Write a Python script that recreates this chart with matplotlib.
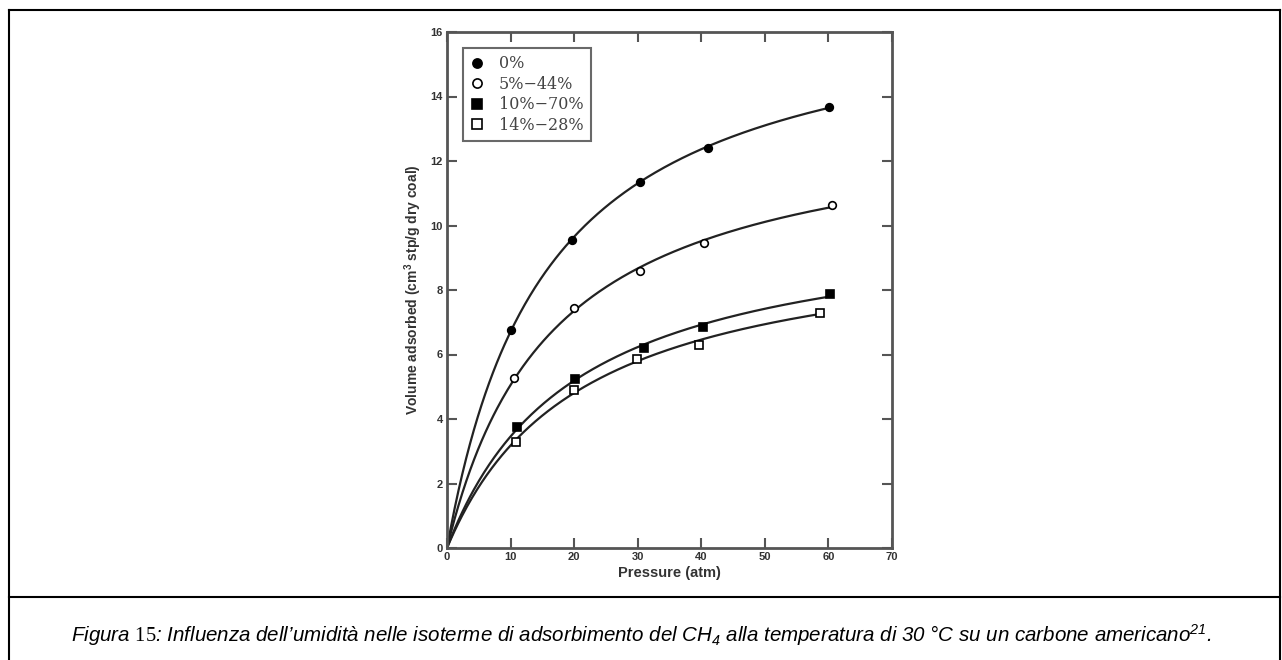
import numpy as np
import matplotlib
matplotlib.use('Agg')
import matplotlib.pyplot as plt
from matplotlib.lines import Line2D

# =============================================================================
# data
# =============================================================================
labels = ['0%', '5%\u221244%', '10%\u221270%', '14%\u221228%']
markers = ['o', 'o', 's', 's']
fills = ['black', 'white', 'black', 'white']

p_0 = [10.0, 19.6, 30.4, 41.0, 60.1]
v_0 = [6.75, 9.55, 11.35, 12.4, 13.68]
p_5 = [10.6, 20.0, 30.4, 40.5, 60.6]
v_5 = [5.28, 7.45, 8.6, 9.46, 10.64]
p_10 = [11.0, 20.1, 31.0, 40.2, 60.2]
v_10 = [3.75, 5.25, 6.2, 6.85, 7.87]
p_14 = [10.8, 19.9, 29.9, 39.7, 58.7]
v_14 = [3.3, 4.9, 5.85, 6.3, 7.3]

xticks = [0, 10, 20, 30, 40, 50, 60, 70]
yticks = [0, 2, 4, 6, 8, 10, 12, 14, 16]

caption = ("Figura $\\mathrm{15}$: Influenza dell\u2019umidità nelle isoterme di "
           "adsorbimento del CH$_\\mathsf{4}$ alla temperatura di 30 °C su un "
           "carbone americano$^{\\mathsf{21}}$.")

plt.rcParams['mathtext.fontset'] = 'custom'
plt.rcParams['mathtext.rm'] = 'Liberation Serif'
plt.rcParams['mathtext.it'] = 'Liberation Sans:italic'
plt.rcParams['mathtext.sf'] = 'Liberation Sans:italic'
plt.rcParams['mathtext.bf'] = 'Liberation Sans:bold'
plt.rcParams['mathtext.default'] = 'it'


def langmuir(p, v, upto):
    # linearised Langmuir fit  P/V = 1/(a b) + P/a
    p = np.asarray(p); v = np.asarray(v)
    slope, icpt = np.polyfit(p, p / v, 1)
    a = 1.0 / slope
    b = slope / icpt
    xx = np.linspace(0, upto, 300)
    return xx, a * b * xx / (1 + b * xx)


# =============================================================================
# figure
# =============================================================================
fig = plt.figure(figsize=(12.82, 6.6), dpi=100)
W, H = 1282.0, 660.0
ax = fig.add_axes([447 / W, 1 - 548 / H, 445 / W, 516 / H])

series = [(p_0, v_0), (p_5, v_5), (p_10, v_10), (p_14, v_14)]
for (p, v), lab, mk, fc in zip(series, labels, markers, fills):
    xx, yy = langmuir(p, v, p[-1])
    ax.plot(xx, yy, color='#222222', lw=1.6, zorder=2)
    ax.plot(p, v, linestyle='none', marker=mk, ms=5.5, mfc=fc, mec='black',
            mew=1.2, label=lab, zorder=3)

ax.set_xlim(0, 70)
ax.set_ylim(0, 16)
ax.set_xticks(xticks)
ax.set_yticks(yticks)
for s in ax.spines.values():
    s.set_color('#555555')
    s.set_linewidth(2)
ax.tick_params(direction='in', length=7, width=1.5, color='#555555',
               top=True, right=True, labelsize=8, pad=3)
for t in ax.get_xticklabels() + ax.get_yticklabels():
    t.set_fontfamily('Liberation Sans')
    t.set_fontweight('bold')
    t.set_color('#333333')

ax.set_xlabel('Pressure (atm)', fontsize=10.5, fontweight='bold',
              family='Liberation Sans', color='#333333', labelpad=3)
ax.set_ylabel(r'Volume adsorbed (cm$^{\mathbf{3}}$ stp/g dry coal)', fontsize=10,
              fontweight='bold', family='Liberation Sans', color='#333333',
              labelpad=5)

leg = ax.legend(loc='upper left', bbox_to_anchor=(0.036, 0.969), frameon=True,
                fancybox=False, edgecolor='#444444', handlelength=0.8,
                handletextpad=1.0, borderpad=0.45, labelspacing=0.22,
                borderaxespad=0, markerscale=1.2,
                prop={'family': 'DejaVu Serif', 'size': 11.5})
leg.get_frame().set_linewidth(1.5)
for t in leg.get_texts():
    t.set_color('#444444')

# outer frame and caption box
def fline(x0, y0, x1, y1):
    fig.add_artist(Line2D([x0 / W, x1 / W], [1 - y0 / H, 1 - y1 / H],
                          color='black', lw=1.5, transform=fig.transFigure))

fline(9, 10, 1280, 10)
fline(9, 10, 9, 660)
fline(1280, 10, 1280, 660)
fline(9, 597, 1280, 597)

fig.text(641 / W, 1 - 635 / H, caption, ha='center', va='center',
         fontsize=14.8, style='italic', family='Liberation Sans')

fig.savefig('out.png', dpi=100)
